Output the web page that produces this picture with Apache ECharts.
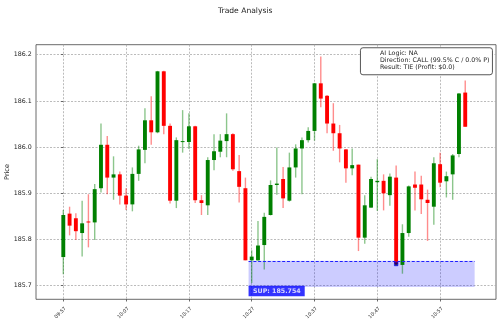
<!DOCTYPE html>
<html><head><meta charset="utf-8">
<script src="https://cdn.jsdelivr.net/npm/echarts@6/dist/echarts.min.js"></script>
<style>html,body{margin:0;padding:0;background:#fff}#c{width:500px;height:326px}</style>
</head><body><div id="c"></div>
<script>
// ---- data ----
const startTime = "09:57";
const tickLabels = ["09:57","10:07","10:17","10:27","10:37","10:47","10:57"];
const yTicks = [185.7, 185.8, 185.9, 186.0, 186.1, 186.2];
const opens  = [185.762,185.856,185.846,185.814,185.839,185.837,185.911,186.005,185.934,185.941,
                185.895,185.876,185.942,185.994,186.058,186.032,186.164,186.046,185.884,186.011,
                186.011,186.045,185.885,185.874,185.972,185.990,186.013,186.028,185.948,185.911,
                185.755,185.755,185.788,185.853,185.918,185.931,185.884,185.956,185.997,186.015,
                186.035,186.138,186.111,186.051,186.030,185.995,185.954,185.962,185.804,185.869,
                185.924,185.927,185.896,185.934,185.745,185.814,185.919,185.919,185.886,185.871,
                185.963,185.926,185.941,185.985,186.118];
const closes = [185.853,185.830,185.818,185.835,185.837,185.909,186.005,185.934,185.941,185.895,
                185.876,185.942,185.995,186.058,186.032,186.164,186.046,185.884,186.015,186.013,
                186.045,185.885,185.879,185.972,185.991,186.014,186.028,185.952,185.914,185.755,
                185.763,185.787,185.849,185.918,185.921,185.889,185.956,185.997,186.015,186.035,
                186.138,186.105,186.051,186.030,185.997,185.954,185.961,185.804,185.874,185.931,
                185.927,185.900,185.936,185.747,185.814,185.915,185.912,185.887,185.879,185.965,
                185.923,185.937,185.982,186.116,186.044];
const lows   = [185.725,185.809,185.799,185.763,185.783,185.799,185.902,185.898,185.886,185.876,
                185.864,185.861,185.927,185.965,186.005,186.030,186.028,185.878,185.868,185.988,
                185.996,185.879,185.853,185.853,185.950,185.978,185.978,185.949,185.880,185.755,
                185.706,185.754,185.735,185.852,185.897,185.868,185.882,185.934,185.898,186.010,
                186.014,186.086,186.030,185.992,185.967,185.923,185.939,185.775,185.791,185.869,
                185.862,185.863,185.873,185.745,185.726,185.806,185.863,185.855,185.797,185.832,
                185.913,185.891,185.886,185.978,186.044];
const highs  = [185.864,185.871,185.857,185.884,185.898,185.920,186.051,186.024,185.980,185.947,
                185.911,185.956,186.003,186.084,186.110,186.165,186.165,186.051,186.021,186.080,
                186.073,186.046,185.896,185.978,186.028,186.028,186.073,186.030,185.983,185.934,
                185.777,185.840,185.858,185.928,185.999,185.957,185.988,186.006,186.021,186.043,
                186.139,186.196,186.113,186.095,186.048,185.996,185.997,185.962,185.896,185.936,
                185.974,185.941,185.943,185.960,185.833,185.917,185.947,185.938,185.908,185.978,
                185.988,185.947,185.985,186.117,186.144];
const supportLevel = 185.754;
const supportZoneBottom = 185.697;
const supportZoneStart = 29.5;
const supportZoneEnd = 65.5;
const signalIndex = 53;
const titleText = "Trade Analysis";
const yName = "Price";
const infoLines = ["AI Logic: NA", "Direction: CALL (99.5% C / 0.0% P)", "Result: TIE (Profit: $0.0)"];

// ---- build ----
const FONT = "DejaVu Sans";
function toMin(t){ const p = t.split(":"); return (+p[0])*60 + (+p[1]); }
const t0 = toMin(startTime);
const xTickVals = tickLabels.map(l => toMin(l) - t0);
const labelByVal = {};
xTickVals.forEach((v,i) => labelByVal[v] = tickLabels[i]);
const candles = opens.map((o,i) => [i, o, closes[i], lows[i], highs[i]]);

const chart = echarts.init(document.getElementById('c'), null, {renderer:'canvas'});
chart.setOption({
  animation: false,
  backgroundColor: '#fff',
  title: { text: titleText, left: 213, top: 2,
           textStyle: { fontFamily: FONT, fontSize: 7.6, fontWeight: 'normal', color: '#222' } },
  grid: { left: 36, right: 4, top: 44.7, bottom: 26.7, containLabel: false, outerBoundsMode: 'none',
          show: true, borderColor: '#444', borderWidth: 0.8, backgroundColor: 'transparent' },
  xAxis: {
    type: 'value', min: -4.347, max: 68.9,
    axisLine: { show: false },
    axisTick: { show: true, customValues: xTickVals, length: 2.2, lineStyle: { color: '#444', width: 0.8 } },
    axisLabel: { customValues: xTickVals, formatter: v => labelByVal[v] || '', rotate: 45,
                 fontFamily: FONT, fontSize: 4.9, color: '#222', margin: 6.5,
                 verticalAlign: 'top', align: 'right', lineHeight: 6 },
    splitLine: { show: true, lineStyle: { color: '#aaa', width: 0.8, type: [2, 1.5] } }
  },
  yAxis: {
    type: 'value', min: 185.6706, max: 186.2216, scale: true,
    name: yName, nameLocation: 'middle', nameGap: 25, nameMoveOverlap: false,
    nameTextStyle: { fontFamily: FONT, fontSize: 6.5, color: '#222' },
    axisLine: { show: false },
    axisTick: { show: true, customValues: yTicks, length: 2.2, lineStyle: { color: '#444', width: 0.8 } },
    axisLabel: { customValues: yTicks, formatter: v => v.toFixed(1), fontFamily: FONT, fontSize: 6.3, color: '#222', margin: 4.2 },
    splitLine: { show: true, lineStyle: { color: '#aaa', width: 0.8, type: [2, 1.5] } }
  },
  series: [
    {
      type: 'scatter', z: 1, silent: true,
      data: [[supportZoneStart, supportLevel - 0.0655]],
      symbolSize: 0,
      label: { show: true, position: 'right', distance: 0, formatter: 'SUP: ' + supportLevel.toFixed(3),
               fontFamily: FONT, fontSize: 6.3, fontWeight: 'bold', color: '#fff',
               backgroundColor: '#0000ff', padding: [2.5, 4, 2, 4.5] },
      markArea: { silent: true, itemStyle: { color: 'rgba(0,0,255,0.2)' },
                  data: [[{ coord: [supportZoneStart, supportLevel] }, { coord: [supportZoneEnd, supportZoneBottom] }]] },
      markLine: { silent: true, symbol: 'none', label: { show: false },
                  lineStyle: { color: '#2020ff', width: 1, type: [3, 1.8] },
                  data: [[{ coord: [supportZoneStart, supportLevel] }, { coord: [supportZoneEnd, supportLevel] }]] }
    },
    {
      type: 'custom', z: 3, silent: true,
      data: candles,
      encode: { x: 0, y: [1,2,3,4] },
      renderItem: function (params, api) {
        const x = api.value(0), o = api.value(1), c = api.value(2), l = api.value(3), h = api.value(4);
        const pO = api.coord([x, o]), pC = api.coord([x, c]), pL = api.coord([x, l]), pH = api.coord([x, h]);
        const w = api.size([0.62, 0])[0];
        const up = c >= o;
        const top = Math.min(pO[1], pC[1]);
        const hh = Math.max(Math.abs(pO[1] - pC[1]), 1);
        return { type: 'group', children: [
          { type: 'line', shape: { x1: pH[0], y1: pH[1], x2: pL[0], y2: pL[1] },
            style: { stroke: up ? 'rgba(0,128,0,0.45)' : 'rgba(255,0,0,0.45)', lineWidth: 1.4 } },
          { type: 'rect', shape: { x: pO[0] - w/2, y: top, width: w, height: hh },
            style: { fill: up ? '#008000' : '#ff0000' } }
        ]};
      }
    },
    {
      type: 'scatter', z: 4, silent: true,
      data: [[signalIndex, closes[signalIndex]]],
      symbol: 'rect', symbolSize: 3.5,
      itemStyle: { color: '#000060', borderColor: '#0000ff', borderWidth: 0.8 }
    }
  ],
  graphic: [
    { type: 'rect', left: 360, top: 47.3, shape: { width: 132, height: 27, r: 2.5 },
      style: { fill: '#fff', stroke: '#444', lineWidth: 0.9 }, z: 100 },
    { type: 'text', left: 380, top: 49.6, z: 101,
      style: { text: infoLines.join('\n'), fontFamily: FONT, fontSize: 6.3, lineHeight: 7.1, fill: '#222' } }
  ]
});
</script></body></html>
